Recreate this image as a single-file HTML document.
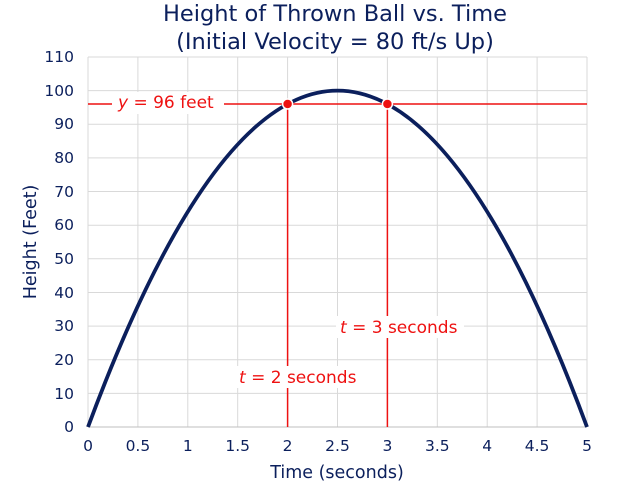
<!DOCTYPE html>
<html><head><meta charset="utf-8"><style>
body{margin:0;background:#fff}
text{font-family:"DejaVu Sans","Liberation Sans",sans-serif}
</style></head><body>
<svg width="619" height="487" viewBox="0 0 619 487" xmlns="http://www.w3.org/2000/svg">
<rect width="619" height="487" fill="#fff"/>
<g stroke="#d9d9d9" stroke-width="1">
<line x1="88" y1="57" x2="587" y2="57"/><line x1="88" y1="90.6" x2="587" y2="90.6"/><line x1="88" y1="124.3" x2="587" y2="124.3"/><line x1="88" y1="157.9" x2="587" y2="157.9"/><line x1="88" y1="191.5" x2="587" y2="191.5"/><line x1="88" y1="225.2" x2="587" y2="225.2"/><line x1="88" y1="258.8" x2="587" y2="258.8"/><line x1="88" y1="292.5" x2="587" y2="292.5"/><line x1="88" y1="326.1" x2="587" y2="326.1"/><line x1="88" y1="359.7" x2="587" y2="359.7"/><line x1="88" y1="393.4" x2="587" y2="393.4"/>
<line x1="88" y1="57" x2="88" y2="427"/><line x1="137.9" y1="57" x2="137.9" y2="427"/><line x1="187.8" y1="57" x2="187.8" y2="427"/><line x1="237.7" y1="57" x2="237.7" y2="427"/><line x1="287.6" y1="57" x2="287.6" y2="427"/><line x1="337.5" y1="57" x2="337.5" y2="427"/><line x1="387.4" y1="57" x2="387.4" y2="427"/><line x1="437.3" y1="57" x2="437.3" y2="427"/><line x1="487.2" y1="57" x2="487.2" y2="427"/><line x1="537.1" y1="57" x2="537.1" y2="427"/><line x1="587" y1="57" x2="587" y2="427"/>
</g>
<line x1="88" y1="427" x2="587" y2="427" stroke="#bfbfbf"/>
<g stroke="#ee1111" stroke-width="1.5">
<line x1="88" y1="104" x2="587" y2="104"/>
<line x1="287.6" y1="104" x2="287.6" y2="427"/>
<line x1="387.4" y1="104" x2="387.4" y2="427"/>
</g>
<path d="M88,427 Q337.5,-245.8 587,427" fill="none" stroke="#0b1f5c" stroke-width="3.8"/>
<circle cx="287.6" cy="104" r="5" fill="#ee1111" stroke="#fff" stroke-width="1.5"/>
<circle cx="387.4" cy="104" r="5" fill="#ee1111" stroke="#fff" stroke-width="1.5"/>
<g font-size="17" fill="#ee1111">
<rect x="112" y="92" width="112" height="22" fill="#fff"/>
<text x="118" y="108"><tspan font-style="italic">y</tspan> = 96 feet</text>
<rect x="336" y="316" width="128" height="22" fill="#fff"/>
<text x="340" y="333"><tspan font-style="italic">t</tspan> = 3 seconds</text>
<rect x="235" y="366" width="128" height="22" fill="#fff"/>
<text x="239" y="383"><tspan font-style="italic">t</tspan> = 2 seconds</text>
</g>
<g font-size="15.5" fill="#0b1f5c" text-anchor="end">
<text x="74" y="62">110</text><text x="74" y="96">100</text><text x="74" y="129">90</text><text x="74" y="163">80</text><text x="74" y="197">70</text><text x="74" y="230">60</text><text x="74" y="264">50</text><text x="74" y="298">40</text><text x="74" y="331">30</text><text x="74" y="365">20</text><text x="74" y="399">10</text><text x="74" y="432">0</text>
</g>
<g font-size="15.5" fill="#0b1f5c" text-anchor="middle">
<text x="88" y="451">0</text><text x="137.9" y="451">0.5</text><text x="187.8" y="451">1</text><text x="237.7" y="451">1.5</text><text x="287.6" y="451">2</text><text x="337.5" y="451">2.5</text><text x="387.4" y="451">3</text><text x="437.3" y="451">3.5</text><text x="487.2" y="451">4</text><text x="537.1" y="451">4.5</text><text x="587" y="451">5</text>
<text x="337" y="478" font-size="17.5">Time (seconds)</text>
<text x="0" y="0" font-size="17.5" transform="translate(36,242) rotate(-90)">Height (Feet)</text>
<text x="335" y="21" font-size="22.5">Height of Thrown Ball vs. Time</text>
<text x="335" y="49" font-size="22.5">(Initial Velocity = 80 ft/s Up)</text>
</g>
</svg>
</body></html>
